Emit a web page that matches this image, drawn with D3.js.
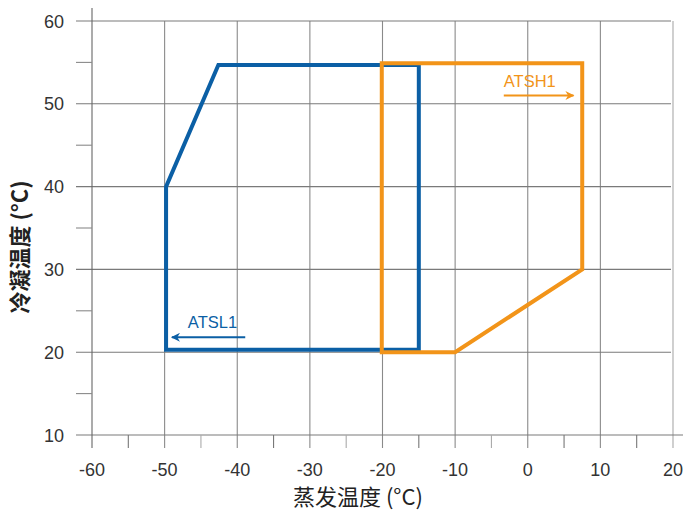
<!DOCTYPE html>
<html><head><meta charset="utf-8">
<script src="https://cdn.jsdelivr.net/npm/d3@7"></script>
<style>
html,body{margin:0;padding:0;background:#fff;}
svg{display:block;}
</style></head>
<body>
<script>
const xTicks = [-60, -50, -40, -30, -20, -10, 0, 10, 20];
const xMinorTicks = [-55, -45, -35, -25, -15, -5, 5, 15];
const yTicks = [10, 20, 30, 40, 50, 60];
const yMinorTicks = [15, 25, 35, 45, 55];
const atsl1 = [[-49.8, 20.3], [-49.8, 40], [-42.6, 54.7], [-15, 54.7], [-15, 20.3]];
const atsh1 = [[-20.1, 20], [-20.1, 54.9], [7.5, 54.9], [7.5, 30], [-10, 20]];
const seriesNames = ["ATSL1", "ATSH1"];
const arrowL = [[-38.9, 21.8], [-49.0, 21.8]];
const arrowH = [[-3.3, 51.0], [6.3, 51.0]];
const labelL = [-46.8, 22.9];
const labelH = [-3.3, 52.0];
const xTitle = "蒸发温度 (°C)";
const yTitle = "冷凝温度 (°C)";

const W = 683, H = 511;
const blue = "#0b5fa5", orange = "#f29419";
const svg = d3.select("body").append("svg").attr("width", W).attr("height", H);
const x = d3.scaleLinear().domain([-60, 20]).range([92, 673]);
const y = d3.scaleLinear().domain([10, 60]).range([435, 21]);

const defs = svg.append("defs");
[["arrBlue", blue], ["arrOrange", orange]].forEach(([id, c]) => {
  defs.append("marker").attr("id", id).attr("viewBox", "0 0 10 10")
    .attr("refX", 9).attr("refY", 5).attr("markerWidth", 13).attr("markerHeight", 9)
    .attr("markerUnits", "userSpaceOnUse").attr("orient", "auto")
    .append("path").attr("d", "M0,0 L10,5 L0,10 L3,5 Z").attr("fill", c);
});

const g = svg.append("g");
g.selectAll(".vg").data(xTicks.filter(d => d > -60)).join("line")
  .attr("x1", d => x(d)).attr("x2", d => x(d))
  .attr("y1", y(60)).attr("y2", y(10) + 13)
  .attr("stroke", d => d === 20 ? "#c4c4c4" : "#8a8a8a").attr("stroke-width", d => d === 20 ? 1.6 : 1.1);
g.selectAll(".hg").data(yTicks).join("line")
  .attr("x1", x(-60) - 16).attr("x2", d => d === 10 ? W : x(20) - 2)
  .attr("y1", d => y(d)).attr("y2", d => y(d))
  .attr("stroke", "#7a7a7a").attr("stroke-width", 1.1);
g.append("line").attr("x1", x(-60)).attr("x2", x(-60)).attr("y1", 8).attr("y2", y(10) + 13)
  .attr("stroke", "#666").attr("stroke-width", 1.1);
g.selectAll(".ym").data(yMinorTicks).join("line")
  .attr("x1", x(-60) - 16).attr("x2", x(-60))
  .attr("y1", d => y(d)).attr("y2", d => y(d))
  .attr("stroke", "#8a8a8a").attr("stroke-width", 1.1);
g.selectAll(".xm").data(xMinorTicks).join("line")
  .attr("x1", d => x(d)).attr("x2", d => x(d))
  .attr("y1", y(10)).attr("y2", y(10) + 13)
  .attr("stroke", d => (d === -45 || d === -25 || d === -5) ? "#aaa" : "#777").attr("stroke-width", 1.1);

const tf = "'Liberation Sans', Arial, sans-serif";
g.selectAll(".xl").data(xTicks).join("text")
  .attr("x", d => x(d)).attr("y", 476).attr("text-anchor", "middle")
  .attr("font-family", tf).attr("font-size", 18).attr("fill", "#333")
  .text(d => d);
g.selectAll(".yl").data(yTicks).join("text")
  .attr("x", 64).attr("y", d => y(d) + 6.5).attr("text-anchor", "end")
  .attr("font-family", tf).attr("font-size", 18).attr("fill", "#333")
  .text(d => d);

const cf = "'Noto Sans CJK SC', 'Noto Sans', sans-serif";
svg.append("text").attr("x", 358).attr("y", 505).attr("text-anchor", "middle")
  .attr("font-family", cf).attr("font-size", 22).attr("fill", "#222").text(xTitle);
svg.append("text").attr("transform", "translate(28,247) rotate(-90)").attr("text-anchor", "middle")
  .attr("font-family", cf).attr("font-size", 22).attr("font-weight", 700).attr("fill", "#222").text(yTitle);

const line = d3.line().x(d => x(d[0])).y(d => y(d[1]));
svg.append("path").attr("d", line(atsl1) + "Z").attr("fill", "none")
  .attr("stroke", blue).attr("stroke-width", 4).attr("stroke-linejoin", "miter");
svg.append("path").attr("d", line(atsh1) + "Z").attr("fill", "none")
  .attr("stroke", orange).attr("stroke-width", 4).attr("stroke-linejoin", "miter");

svg.append("path").attr("d", line(arrowL)).attr("stroke", blue).attr("stroke-width", 2)
  .attr("fill", "none").attr("marker-end", "url(#arrBlue)");
svg.append("path").attr("d", line(arrowH)).attr("stroke", orange).attr("stroke-width", 2)
  .attr("fill", "none").attr("marker-end", "url(#arrOrange)");
svg.append("text").attr("x", x(labelL[0])).attr("y", y(labelL[1]))
  .attr("font-family", tf).attr("font-size", 16.5).attr("fill", blue).text(seriesNames[0]);
svg.append("text").attr("x", x(labelH[0])).attr("y", y(labelH[1]))
  .attr("font-family", tf).attr("font-size", 16.5).attr("fill", orange).text(seriesNames[1]);
</script>
</body></html>
